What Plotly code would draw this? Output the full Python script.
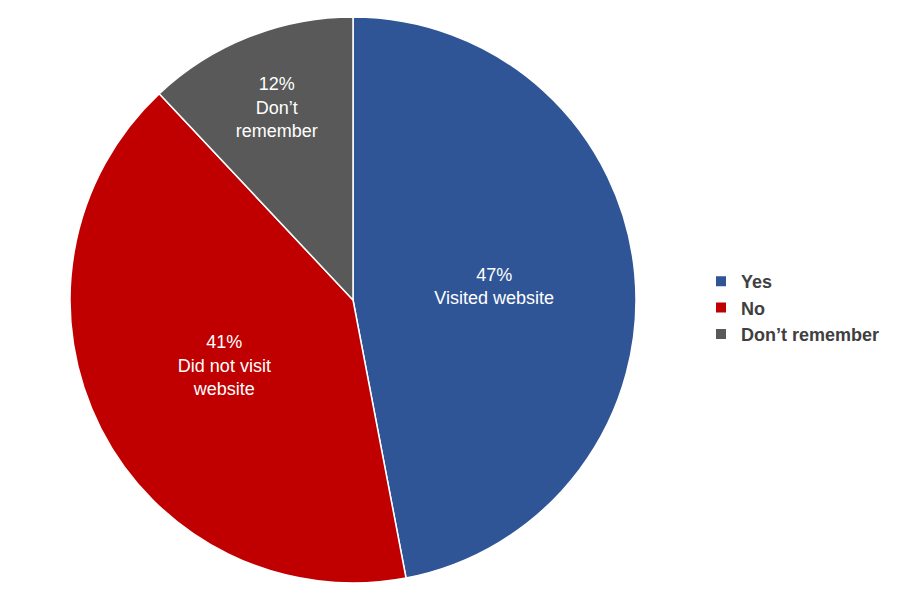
import plotly.graph_objects as go

labels = ["Yes", "No", "Don’t remember"]
values = [47, 41, 12]
slice_text = ["47%<br>Visited website", "41%<br>Did not visit<br>website", "12%<br>Don’t<br>remember"]
colors = ["#2F5597", "#C00000", "#595959"]

fig = go.Figure(go.Pie(
    labels=labels, values=values, text=slice_text, textinfo="text",
    textposition="inside", insidetextorientation="horizontal",
    sort=False, direction="clockwise", rotation=0,
    marker=dict(colors=colors, line=dict(color="white", width=1.5)),
    textfont=dict(color="white", size=18, family="Liberation Sans"),
    domain=dict(x=[62/900, 628/900], y=[25/600, 591/600]),
))
fig.update_layout(
    width=900, height=600, margin=dict(l=0, r=0, t=0, b=0),
    paper_bgcolor="white", showlegend=True,
    legend=dict(x=0.77, y=0.5, xanchor="left", yanchor="middle",
                tracegroupgap=0, itemsizing="constant",
                font=dict(size=18, color="#404040", family="Liberation Sans"),
                entrywidthmode="pixels"),
)
fig.update_layout(legend_font_weight="bold")
fig.write_html("out.html")
